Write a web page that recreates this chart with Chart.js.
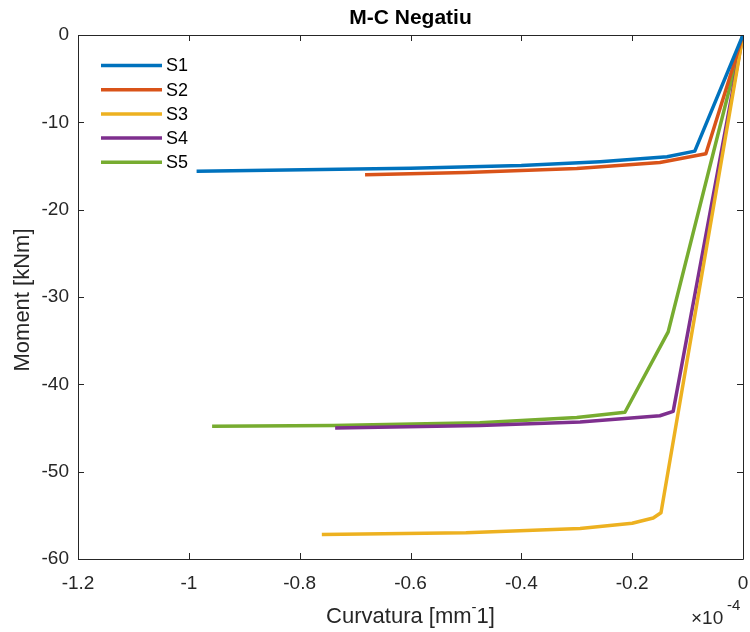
<!DOCTYPE html>
<html>
<head>
<meta charset="utf-8">
<script src="https://cdn.jsdelivr.net/npm/chart.js@4.4.0/dist/chart.umd.min.js"></script>
<style>
  html, body { margin: 0; padding: 0; background: #fff; }
  #wrap { width: 750px; height: 632px; }
</style>
</head>
<body>
<div id="wrap"><canvas id="c" width="750" height="632"></canvas></div>
<script>
// Moment-curvature curves (negative bending); curvature in units of 1e-4 mm^-1
const seriesNames = ['S1', 'S2', 'S3', 'S4', 'S5'];
const seriesColors = ['#0072BD', '#D95319', '#EDB120', '#7E2F8E', '#77AC30'];

const s1Curv = [-0.986, -0.6, -0.4, -0.258, -0.137, -0.087, 0];
const s1Mom  = [-15.6, -15.25, -14.95, -14.5, -13.95, -13.3, 0];

const s2Curv = [-0.682, -0.5, -0.3, -0.15, -0.067, 0];
const s2Mom  = [-16.0, -15.75, -15.3, -14.6, -13.6, 0];

const s3Curv = [-0.76, -0.5, -0.294, -0.2, -0.162, -0.148, 0];
const s3Mom  = [-57.2, -57.0, -56.5, -55.9, -55.3, -54.7, 0];

const s4Curv = [-0.736, -0.475, -0.294, -0.15, -0.126, 0];
const s4Mom  = [-45.0, -44.7, -44.3, -43.6, -43.1, 0];

const s5Curv = [-0.958, -0.74, -0.475, -0.3, -0.213, -0.135, 0];
const s5Mom  = [-44.8, -44.7, -44.4, -43.8, -43.2, -34.0, 0];

const curvatures = [s1Curv, s2Curv, s3Curv, s4Curv, s5Curv];
const moments = [s1Mom, s2Mom, s3Mom, s4Mom, s5Mom];

const xTicks = [-1.2, -1, -0.8, -0.6, -0.4, -0.2, 0];
const yTicks = [-60, -50, -40, -30, -20, -10, 0];

const titleText = 'M-C Negatiu';
const yLabel = 'Moment [kNm]';

const FONT = '"Liberation Sans", Arial, Helvetica, sans-serif';
const AXIS_COLOR = '#262626';

const datasets = seriesNames.map((name, i) => ({
  label: name,
  data: curvatures[i].map((x, k) => ({ x: x, y: moments[i][k] })),
  borderColor: seriesColors[i],
  backgroundColor: seriesColors[i],
  borderWidth: 3.5,
  pointRadius: 0,
  tension: 0,
  borderJoinStyle: 'round',
  borderCapStyle: 'butt',
  fill: false
}));

function fmt(v) {
  const r = Math.round(v * 10) / 10;
  return (r === 0 ? 0 : r).toString();
}

// Frame, inward ticks, title, axis labels, and legend
const decor = {
  id: 'decor',
  afterDraw(chart) {
    const ctx = chart.ctx;
    const a = chart.chartArea;
    const xs = chart.scales.x, ys = chart.scales.y;
    ctx.save();
    ctx.strokeStyle = AXIS_COLOR;
    ctx.lineWidth = 1;
    ctx.beginPath();
    ctx.rect(Math.round(a.left) + 0.5, Math.round(a.top) + 0.5,
             Math.round(a.right - a.left), Math.round(a.bottom - a.top));
    ctx.stroke();
    const tl = 6;
    ctx.beginPath();
    xTicks.forEach(v => {
      const px = Math.round(xs.getPixelForValue(v)) + 0.5;
      ctx.moveTo(px, a.bottom); ctx.lineTo(px, a.bottom - tl);
      ctx.moveTo(px, a.top); ctx.lineTo(px, a.top + tl);
    });
    yTicks.forEach(v => {
      const py = Math.round(ys.getPixelForValue(v)) + 0.5;
      ctx.moveTo(a.left, py); ctx.lineTo(a.left + tl, py);
      ctx.moveTo(a.right, py); ctx.lineTo(a.right - tl, py);
    });
    ctx.stroke();

    const cx = (a.left + a.right) / 2;
    ctx.fillStyle = '#000';
    ctx.textAlign = 'center';
    ctx.textBaseline = 'middle';
    ctx.font = 'bold 21px ' + FONT;
    ctx.fillText(titleText, cx, 18);

    // x-axis label with superscript minus
    ctx.fillStyle = AXIS_COLOR;
    const p1 = 'Curvatura [mm', p3 = '1]';
    ctx.font = '15px ' + FONT;
    const w2 = ctx.measureText('-').width;
    ctx.font = '22px ' + FONT;
    const w1 = ctx.measureText(p1).width, w3 = ctx.measureText(p3).width;
    const sx = cx - (w1 + w2 + w3) / 2;
    const ly = 617;
    ctx.textAlign = 'left';
    ctx.fillText(p1, sx, ly);
    ctx.font = '15px ' + FONT;
    ctx.fillText('-', sx + w1, ly - 9);
    ctx.font = '22px ' + FONT;
    ctx.fillText(p3, sx + w1 + w2, ly);

    // exponent marker
    ctx.font = '19px ' + FONT;
    ctx.textAlign = 'left';
    ctx.fillText('\u00D710', 691, 619);
    ctx.font = '15px ' + FONT;
    ctx.fillText('-4', 727, 606);

    // y-axis label
    ctx.save();
    ctx.translate(23, 300);
    ctx.rotate(-Math.PI / 2);
    ctx.textAlign = 'center';
    ctx.font = '22px ' + FONT;
    ctx.fillText(yLabel, 0, 0);
    ctx.restore();

    // legend
    ctx.font = '18px ' + FONT;
    ctx.textAlign = 'left';
    seriesNames.forEach((n, i) => {
      const y = 65.5 + i * 24.2;
      ctx.strokeStyle = seriesColors[i];
      ctx.lineWidth = 3.5;
      ctx.beginPath();
      ctx.moveTo(101, y); ctx.lineTo(162, y);
      ctx.stroke();
      ctx.fillStyle = '#000';
      ctx.fillText(n, 166, y + 1);
    });
    ctx.restore();
  }
};

new Chart(document.getElementById('c'), {
  type: 'line',
  data: { datasets: datasets },
  options: {
    responsive: false,
    animation: false,
    layout: { padding: { left: 0, right: 7, top: 35, bottom: 0 } },
    plugins: { legend: { display: false }, tooltip: { enabled: false }, title: { display: false } },
    scales: {
      x: {
        type: 'linear',
        min: -1.2, max: 0,
        afterFit(s) { s.height = 73; s.paddingLeft = 0; s.paddingRight = 0; },
        afterBuildTicks(s) { s.ticks = xTicks.map(v => ({ value: v })); },
        grid: { display: false, drawTicks: false },
        border: { display: false },
        ticks: {
          padding: 13,
          color: AXIS_COLOR,
          font: { family: FONT, size: 19 },
          maxRotation: 0,
          callback: v => fmt(v)
        }
      },
      y: {
        type: 'linear',
        min: -60, max: 0,
        afterFit(s) { s.width = 78; s.paddingTop = 0; s.paddingBottom = 0; },
        afterBuildTicks(s) { s.ticks = yTicks.map(v => ({ value: v })); },
        grid: { display: false, drawTicks: false },
        border: { display: false },
        ticks: {
          padding: 9,
          color: AXIS_COLOR,
          font: { family: FONT, size: 19 },
          callback: v => fmt(v)
        }
      }
    }
  },
  plugins: [decor]
});
</script>
</body>
</html>
